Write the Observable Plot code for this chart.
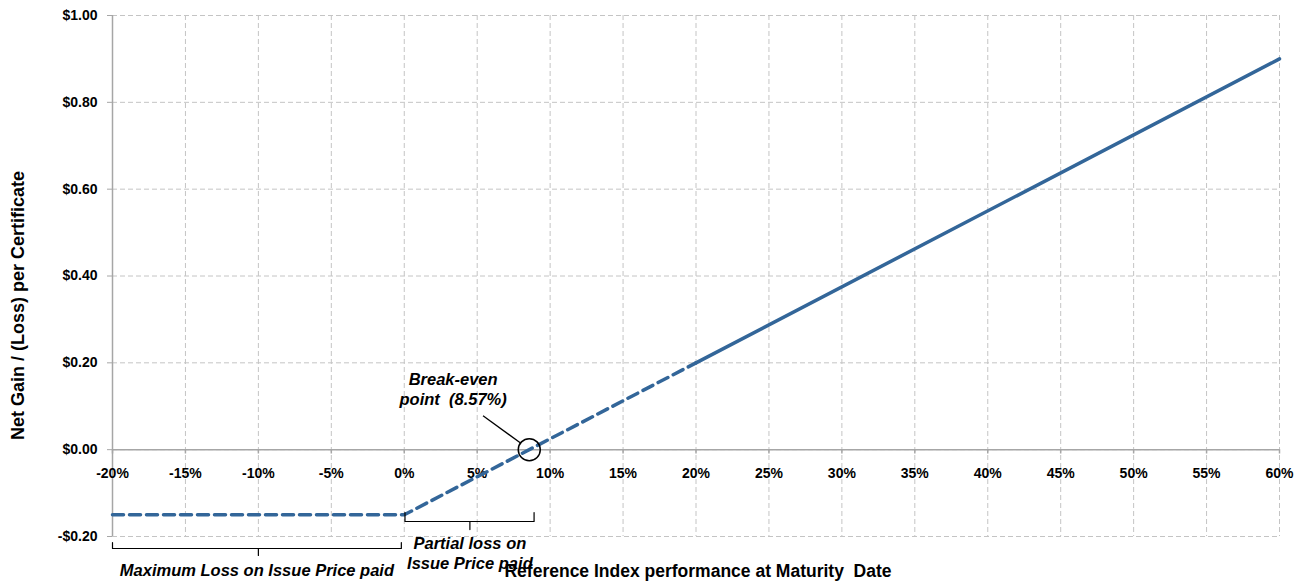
<!DOCTYPE html>
<html>
<head>
<meta charset="utf-8">
<script src="https://cdn.jsdelivr.net/npm/d3@7"></script>
<script src="https://cdn.jsdelivr.net/npm/@observablehq/plot@0.6"></script>
<style>
  html, body { margin: 0; padding: 0; background: #fff; }
  #chart { width: 1303px; height: 587px; }
</style>
</head>
<body>
<div id="chart"></div>
<script>
// ---- data ----
const perf = [-20, 0, 20, 60];            // reference index performance (%)
const gain = [-0.15, -0.15, 0.20, 0.90];  // net gain/(loss) per certificate ($)
const xTicks = [-20, -15, -10, -5, 0, 5, 10, 15, 20, 25, 30, 35, 40, 45, 50, 55, 60];
const yTicks = [-0.2, 0, 0.2, 0.4, 0.6, 0.8, 1.0];
const breakEven = 8.57;
const xTitle = "Reference Index performance at Maturity\u00a0 Date";
const yTitle = "Net Gain / (Loss) per Certificate";
const breakLabel = "Break-even\npoint\u00a0 (8.57%)";
const partialLabel = "Partial loss on\nIssue Price paid";
const maxLabel = "Maximum Loss on Issue Price paid";

const pts = perf.map((x, i) => ({x, y: gain[i]}));
const dashedPts = pts.slice(0, 3);
const solidPts = pts.slice(2);

const FONT = "'Liberation Sans', Arial, Helvetica, sans-serif";
const lineColor = "#336699";
const gridColor = "#c4c4c4";
const axisColor = "#a6a6a6";

const yFmt = d => (d < 0 ? "-" : "") + "$" + Math.abs(d).toFixed(2);

// bracket helper (annotation shapes in data units)
function bracket(x1, x2, yBar, yEnd, xMid, yMid) {
  return [
    [{x: x1, y: yEnd}, {x: x1, y: yBar}, {x: x2, y: yBar}, {x: x2, y: yEnd}],
    [{x: xMid, y: yBar}, {x: xMid, y: yMid}]
  ];
}
const leftBr = bracket(-20, -0.2, -0.2276, -0.2138, -10, -0.2437);
const partBr = bracket(0.05, 8.9, -0.1655, -0.145, 4.5, -0.184);

const annStyle = {fontSize: 16.5, fontWeight: "bold", fontStyle: "italic", fill: "#000"};

const chart = Plot.plot({
  width: 1303,
  height: 587,
  marginLeft: 112,
  marginRight: 24,
  marginTop: 15,
  marginBottom: 51,
  style: {fontFamily: FONT, background: "#fff", color: "#000"},
  x: {domain: [-20, 60], axis: null},
  y: {domain: [-0.2, 1.0], axis: null},
  marks: [
    Plot.gridX(xTicks, {stroke: gridColor, strokeOpacity: 1, strokeDasharray: "5,3"}),
    Plot.gridY(yTicks, {stroke: gridColor, strokeOpacity: 1, strokeDasharray: "5,3"}),
    Plot.ruleY([0], {stroke: axisColor, strokeWidth: 1.5}),
    Plot.ruleX([-20], {stroke: axisColor, strokeWidth: 1.5}),
    Plot.axisY(yTicks, {
      tickFormat: yFmt, tickSize: 5, tickPadding: 10,
      stroke: axisColor, fill: "#000",
      fontSize: 14, fontWeight: "bold", label: null
    }),
    Plot.ruleX(xTicks, {x: d => d, y1: 0, y2: -0.01, stroke: axisColor, strokeWidth: 1.5}),
    Plot.text(xTicks, {
      x: d => d, y: 0, dy: 24, text: d => d + "%",
      fontSize: 14, fontWeight: "bold", fill: "#000"
    }),
    Plot.line(dashedPts, {x: "x", y: "y", stroke: lineColor, strokeWidth: 3.5, strokeDasharray: "11,6"}),
    Plot.line(solidPts, {x: "x", y: "y", stroke: lineColor, strokeWidth: 3.5}),
    // break-even annotation
    Plot.dot([{x: breakEven, y: 0}], {x: "x", y: "y", r: 11, stroke: "#000", strokeWidth: 1.5, fill: "none"}),
    Plot.link([{x1: 5.4, y1: 0.078, x2: 7.95, y2: 0.016}], {x1: "x1", y1: "y1", x2: "x2", y2: "y2", stroke: "#000", strokeWidth: 1.3}),
    Plot.text([breakLabel], {x: 3.35, y: 0.14, text: d => d, lineHeight: 1.22, ...annStyle}),
    // brackets
    ...leftBr.map(seg => Plot.line(seg, {x: "x", y: "y", stroke: "#000", strokeWidth: 1.2})),
    ...partBr.map(seg => Plot.line(seg, {x: "x", y: "y", stroke: "#000", strokeWidth: 1.2})),
    Plot.text([partialLabel], {x: 4.5, y: -0.237, text: d => d, lineHeight: 1.22, ...annStyle}),
    Plot.text([maxLabel], {x: -10.1, y: -0.278, text: d => d, ...annStyle}),
    // axis titles
    Plot.text([xTitle], {frameAnchor: "bottom", dy: 40, dx: 2, text: d => d, fontSize: 17.5, fontWeight: "bold", fill: "#000"}),
    Plot.text([yTitle], {frameAnchor: "left", textAnchor: "middle", dx: -94, dy: 29.5, rotate: -90, text: d => d, fontSize: 18, fontWeight: "bold", fill: "#000"})
  ]
});
document.getElementById("chart").appendChild(chart);
</script>
</body>
</html>
